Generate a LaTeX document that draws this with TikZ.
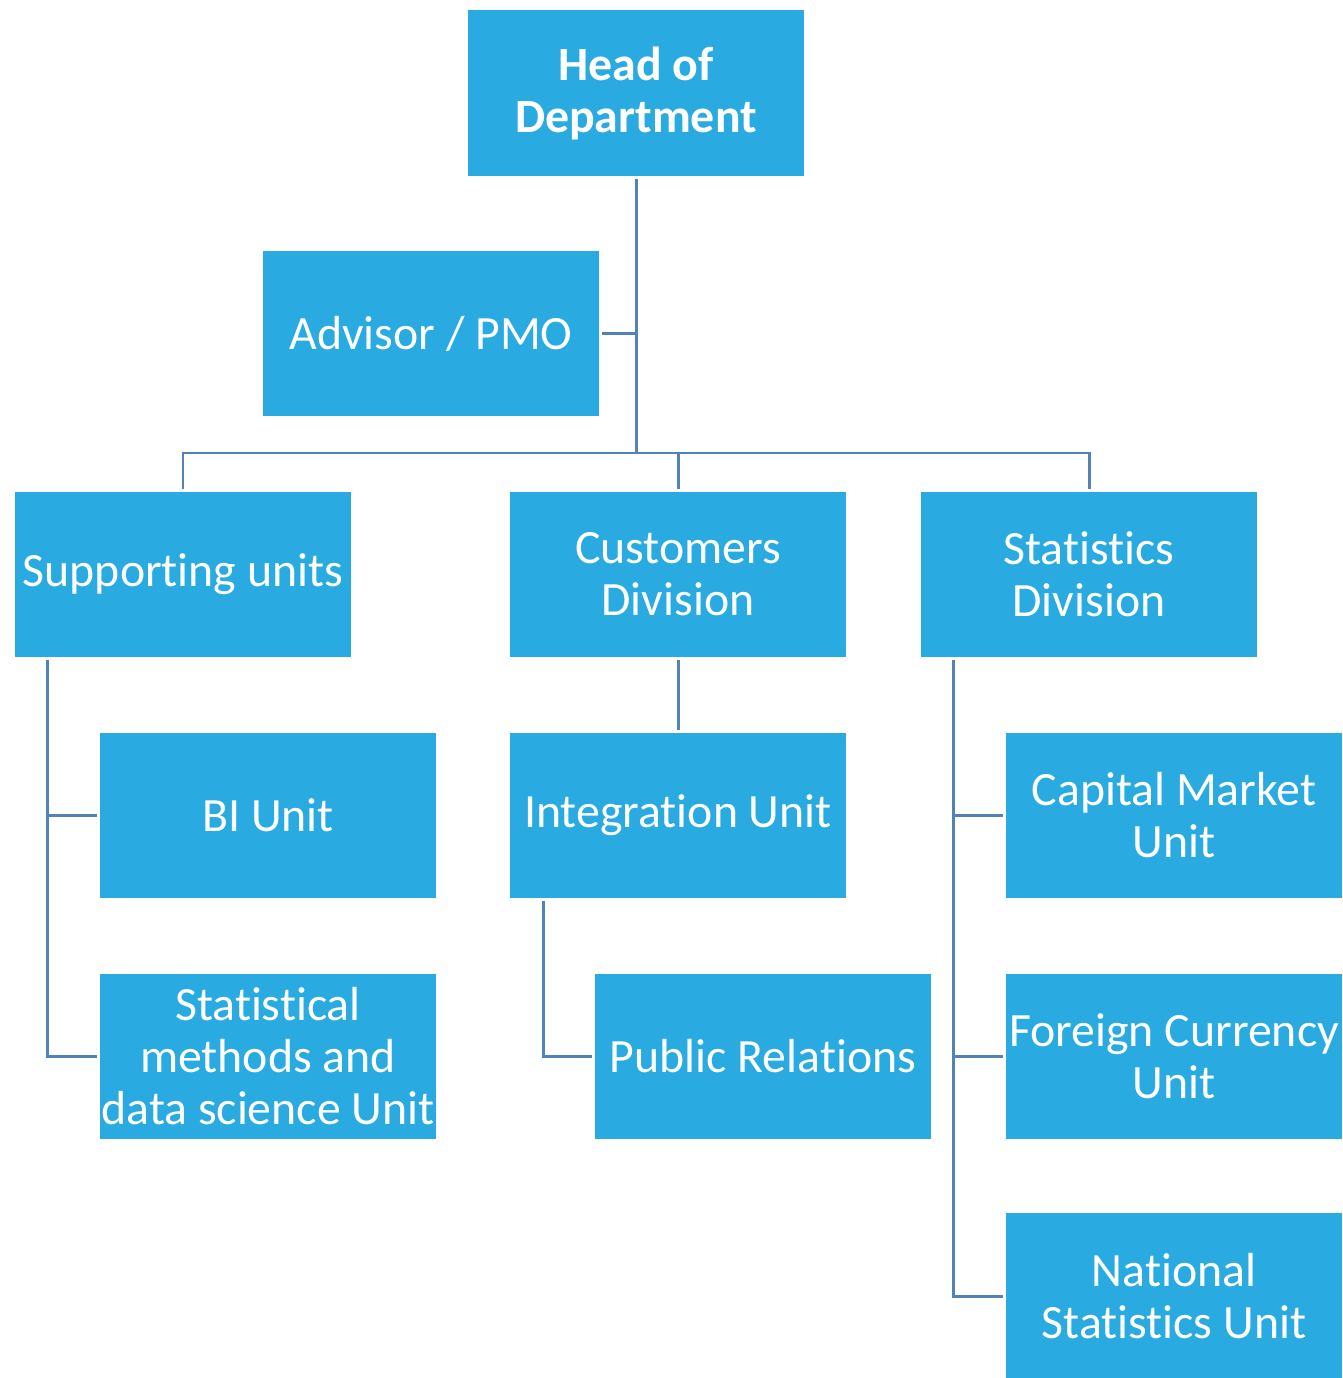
\documentclass[tikz,border=0pt]{standalone}
\usepackage{fontspec}
\setmainfont{Carlito}[RawFeature={-liga;-clig;-dlig}]
\usetikzlibrary{positioning,calc}
\definecolor{boxblue}{HTML}{29AAE1}
\definecolor{linkblue}{HTML}{5282B8}
\tikzset{
  unit/.style={rectangle, fill=boxblue, text=white, minimum width=6.72cm, minimum height=3.32cm,
    inner sep=0pt, outer sep=1.5pt, align=center,
    font=\fontsize{27.2}{29.6}\selectfont},
  link/.style={draw=linkblue, line width=1.7pt}
}
\begin{document}
\begin{tikzpicture}[x=0.02cm,y=-0.02cm]
  \useasboundingbox (0,0) rectangle (1342,1378);
  \node[unit, font=\fontsize{27.2}{29.6}\selectfont\bfseries] (hod) at (636,93) {Head of\\Department};
  \node[unit] (adv) at (431,333.5) {Advisor / PMO};
  \node[unit] (supp) at (183,574.5) {Supporting units};
  \node[unit] (cust) at (678,574.5) {Customers\\Division};
  \node[unit] (stat) at (1089,574.5) {Statistics\\Division};
  \node[unit] (bi) at (268,815.5) {BI Unit};
  \node[unit] (meth) at (268,1056.5) {Statistical\\methods and\\data science Unit};
  \node[unit] (integ) at (678,815.5) {Integration Unit};
  \node[unit] (pr) at (763,1056.5) {Public Relations};
  \node[unit] (cap) at (1174,815.5) {Capital Market\\Unit};
  \node[unit] (fx) at (1174,1056.5) {Foreign Currency\\Unit};
  \node[unit] (nat) at (1174,1296) {National\\Statistics Unit};
  \coordinate (hub) at (636,453);
  \draw[link] (hod.south) -- (hub);
  \draw[link] (adv.east) -- (adv.east -| hod.south);
  \draw[link] (supp.north) |- (hub) -| (stat.north);
  \draw[link] (hub) -| (cust.north);
  \draw[link] (cust.south) -- (integ.north);
  \draw[link] ([xshift=0.7cm]supp.south west) |- (meth.west);
  \draw[link] ([xshift=0.7cm]supp.south west |- bi.west) -- (bi.west);
  \draw[link] ([xshift=0.72cm]integ.south west) |- (pr.west);
  \draw[link] ([xshift=0.7cm]stat.south west) |- (nat.west);
  \draw[link] ([xshift=0.7cm]stat.south west |- cap.west) -- (cap.west);
  \draw[link] ([xshift=0.7cm]stat.south west |- fx.west) -- (fx.west);
\end{tikzpicture}
\end{document}
